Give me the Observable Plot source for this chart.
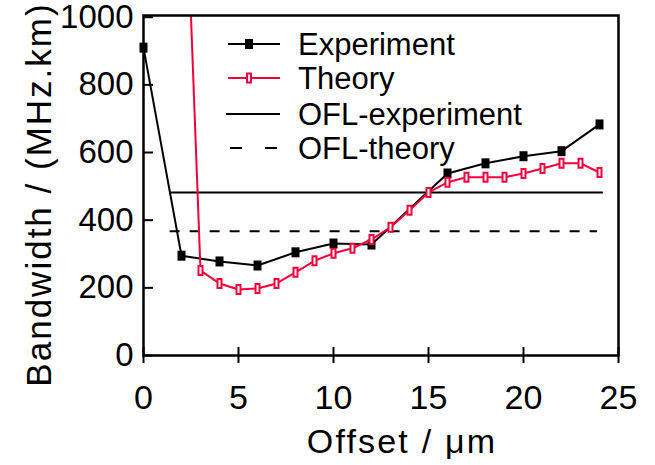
<!DOCTYPE html>
<html><head><meta charset="utf-8">
<script src="https://cdn.jsdelivr.net/npm/d3@7"></script>
<script src="https://cdn.jsdelivr.net/npm/@observablehq/plot@0.6"></script>
<style>body{margin:0;background:#fff}#chart{width:655px;height:465px}</style>
</head><body><div id="chart"></div>
<script>
// ---- data ----
const xTicks = [0, 5, 10, 15, 20, 25];
const yTicks = [0, 200, 400, 600, 800, 1000];
const expX = [0, 2, 4, 6, 8, 10, 12, 16, 18, 20, 22, 24];
const expY = [910, 295, 278, 266, 305, 331, 328, 538, 568, 589, 604, 683];
const thX = [2, 3, 4, 5, 6, 7, 8, 9, 10, 11, 12, 13, 14, 15, 16, 17, 18, 19, 20, 21, 22, 23, 24];
const thY = [1750, 251, 213, 195, 198, 213, 246, 280, 302, 317, 343, 379, 429, 482, 512, 527, 527, 527, 538, 553, 568, 568, 541];
const oflExperiment = 482;
const oflTheory = 367;
const oflSpanX = [1.4, 24.2];
const seriesNames = ["Experiment", "Theory", "OFL-experiment", "OFL-theory"];
const xLabel = "Offset / μm";
const yLabel = "Bandwidth / (MHz.km)";

const red = "#f2003c";
const font = "'Liberation Sans', Arial, Helvetica, sans-serif";
const rectSym = (w, h) => ({draw(ctx) { ctx.rect(-w / 2, -h / 2, w, h); }});

const expData = expX.map((x, i) => ({x, y: expY[i]}));
const thData = thX.map((x, i) => ({x, y: thY[i]}));
const oflExpData = [{y: oflExperiment, x1: oflSpanX[0], x2: oflSpanX[1]}];
const oflThData = [{y: oflTheory, x1: oflSpanX[0], x2: 23.9}];

const plot = Plot.plot({
  width: 655, height: 465,
  marginLeft: 143, marginRight: 37, marginTop: 15, marginBottom: 110,
  style: {fontFamily: font, fontSize: "33px", color: "#000", background: "#fff", overflow: "visible"},
  x: {domain: [0, 25]},
  y: {domain: [0, 1005]},
  marks: [
    Plot.ruleY(oflExpData, {y: "y", x1: "x1", x2: "x2", stroke: "#000", strokeWidth: 2}),
    Plot.ruleY(oflThData, {y: "y", x1: "x1", x2: "x2", stroke: "#000", strokeWidth: 2, strokeDasharray: "10,10"}),
    Plot.line(expData, {x: "x", y: "y", stroke: "#000", strokeWidth: 2}),
    Plot.dot(expData, {x: "x", y: "y", symbol: rectSym(8, 10), fill: "#000", stroke: "none"}),
    Plot.line(thData, {x: "x", y: "y", stroke: red, strokeWidth: 2, clip: true}),
    Plot.dot(thData, {x: "x", y: "y", symbol: rectSym(4, 9), fill: "#fff", stroke: red, strokeWidth: 2, clip: true}),
    Plot.axisY({ticks: yTicks, tickSize: -10, tickPadding: 20, tickFormat: d3.format("d"), label: null, strokeWidth: 2, fontSize: 33}),
    Plot.axisX({ticks: xTicks, tickSize: 8, tickPadding: 21, tickFormat: d3.format("d"), label: null, strokeWidth: 2, fontSize: 34}),
    Plot.axisX({ticks: xTicks, tickSize: -8, tickFormat: () => "", label: null, strokeWidth: 2}),
    Plot.frame({stroke: "#000", strokeWidth: 2.5}),
    Plot.text([xLabel], {frameAnchor: "bottom", textAnchor: "middle", dx: 21, dy: 87, lineAnchor: "middle", fontSize: 34}),
    Plot.text([yLabel], {frameAnchor: "left", textAnchor: "middle", rotate: -90, dx: -104, dy: 9, lineAnchor: "middle", fontSize: 35})
  ]
});

const svg = d3.select(plot);
// wider letter spacing for the axis titles, as in the reference
svg.selectAll("text").filter(function() { return this.textContent === yLabel; }).attr("letter-spacing", 2);
svg.selectAll("text").filter(function() { return this.textContent === xLabel; }).attr("letter-spacing", 2.2);

// legend inside the plot (real text)
const lg = svg.append("g").attr("font-family", font).attr("font-size", 31).attr("text-anchor", "start");
const rowsY = [44, 78, 114, 148];
seriesNames.forEach((name, i) => {
  const cy = rowsY[i];
  const g = lg.append("g");
  if (i === 3) {
    g.append("line").attr("x1", 230).attr("x2", 280).attr("y1", cy).attr("y2", cy)
      .attr("stroke", "#000").attr("stroke-width", 2).attr("stroke-dasharray", "12,23");
  } else {
    g.append("line").attr("x1", i === 2 ? 226 : 228).attr("x2", 280).attr("y1", cy).attr("y2", cy)
      .attr("stroke", i === 1 ? red : "#000").attr("stroke-width", 2);
  }
  if (i === 0) g.append("rect").attr("x", 245).attr("y", cy - 5).attr("width", 8).attr("height", 10).attr("fill", "#000");
  if (i === 1) g.append("rect").attr("x", 247).attr("y", cy - 4.5).attr("width", 4).attr("height", 9).attr("fill", "#fff").attr("stroke", red).attr("stroke-width", 2);
  g.append("text").attr("x", 298).attr("y", cy + 11).attr("fill", "#000").text(name);
});

document.getElementById("chart").appendChild(plot);
</script>
</body></html>
